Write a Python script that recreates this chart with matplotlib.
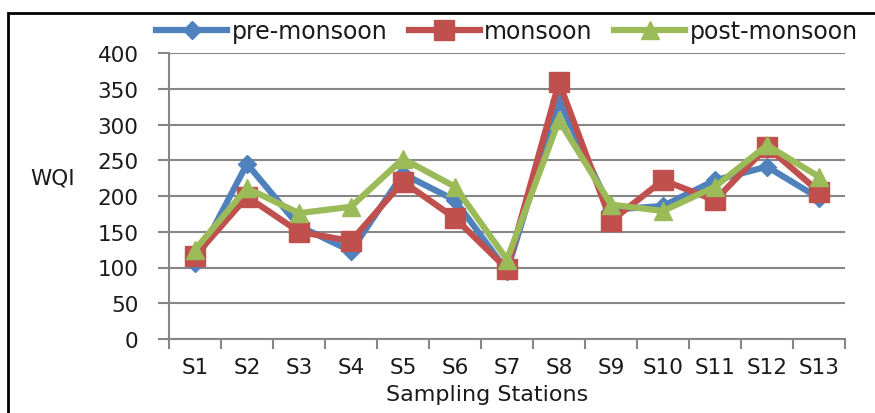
import matplotlib
matplotlib.use("Agg")
from matplotlib import pyplot as plt
from matplotlib.patches import Rectangle
import numpy as np

stations = ['S1', 'S2', 'S3', 'S4', 'S5', 'S6', 'S7', 'S8', 'S9', 'S10', 'S11', 'S12', 'S13']
pre_monsoon = [106, 245, 158, 123, 231, 194, 95, 333, 181, 186, 222, 241, 197]
monsoon = [116, 199, 150, 137, 220, 169, 98, 359, 165, 222, 194, 269, 206]
post_monsoon = [125, 211, 176, 185, 252, 213, 111, 306, 188, 179, 213, 271, 227]

plt.rcParams['font.family'] = ['DejaVu Sans']
txt_color = '#1a1a1a'
fs = 15.5

fig = plt.figure(figsize=(8.75, 4.14), dpi=100)
ax = fig.add_axes([169/875, 1-340/414, (845-169)/875, (340-54)/414])

x = np.arange(len(stations))
ax.plot(x, pre_monsoon, color='#4F81BD', lw=4.5, marker='D', ms=9, label='pre-monsoon', zorder=3)
ax.plot(x, monsoon, color='#C0504D', lw=4.5, marker='s', ms=14, label='monsoon', zorder=4)
ax.plot(x, post_monsoon, color='#9BBB59', lw=4.5, marker='^', ms=13, label='post-monsoon', zorder=5)

ax.set_xlim(-0.5, len(stations) - 0.5)
ax.set_ylim(0, 400)
ax.set_yticks(range(0, 401, 50))
ax.set_xticks(x)
ax.set_xticklabels(stations)
ax.set_xticks(np.arange(-0.5, len(stations)), minor=True)
ax.tick_params(axis='x', which='major', length=0, pad=13, labelsize=fs, labelcolor=txt_color)
ax.tick_params(axis='x', which='minor', length=7, width=1.5, color='#868686', direction='out')
ax.tick_params(axis='y', length=8, width=1.5, color='#868686', labelsize=fs, pad=14, labelcolor=txt_color)
ax.grid(axis='y', color='#868686', lw=1.5)
ax.set_axisbelow(True)
for s in ['top', 'right']:
    ax.spines[s].set_visible(False)
for s in ['left', 'bottom']:
    ax.spines[s].set_color('#868686')
    ax.spines[s].set_linewidth(1.5)

ax.set_xlabel('Sampling Stations', fontsize=16, color=txt_color)
ax.xaxis.set_label_coords(0.47, -0.192)
ax.xaxis.label.set_va('center')
ax.set_ylabel('WQI', fontsize=fs, rotation=0, color=txt_color, ha='center', va='center')
ax.yaxis.set_label_coords(-0.172, 0.565)

fig.legend(loc='center', bbox_to_anchor=(507/875, 1-32/414), ncol=3, frameon=False,
           fontsize=17, handlelength=3.0, handletextpad=0.2, columnspacing=0.9, borderaxespad=0,
           labelcolor=txt_color)

fig.patches.append(Rectangle((8/875, -0.1), 1.2, 1.1-14/414, transform=fig.transFigure,
                             fill=False, edgecolor='black', lw=2))

fig.savefig('out.png', dpi=100)
